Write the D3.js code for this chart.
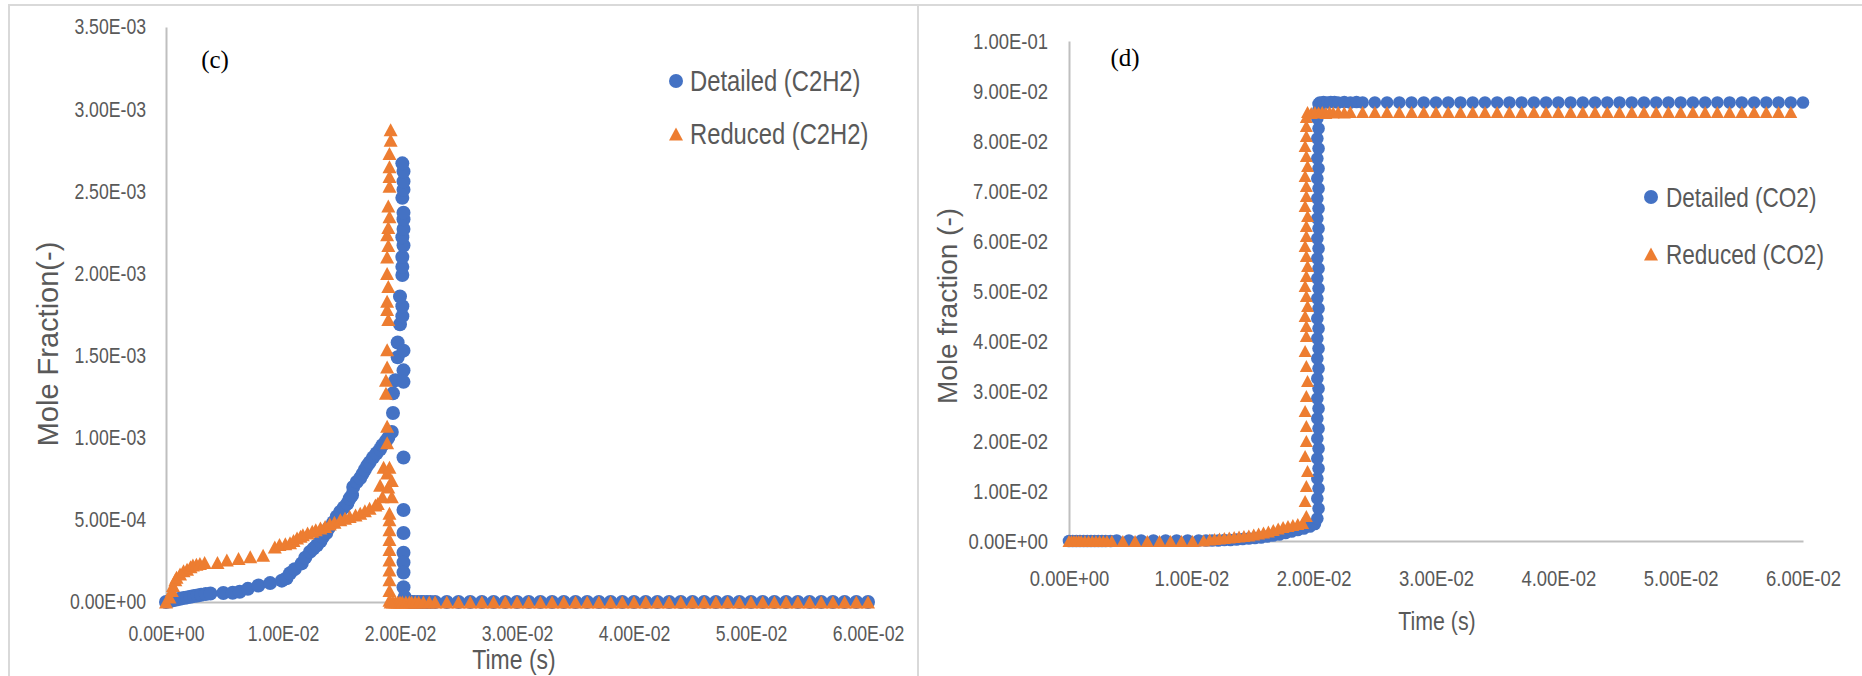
<!DOCTYPE html>
<html>
<head>
<meta charset="utf-8">
<script src="https://cdn.jsdelivr.net/npm/d3@7"></script>
<style>
  body { margin: 0; background: #ffffff; }
  svg { display: block; }
</style>
</head>
<body>
<svg id="chart" width="1862" height="676"></svg>
<script>
// ---------- data ----------
const timeTicks = [0, 0.01, 0.02, 0.03, 0.04, 0.05, 0.06];
const timeTickLabels = ["0.00E+00", "1.00E-02", "2.00E-02", "3.00E-02", "4.00E-02", "5.00E-02", "6.00E-02"];

const c2h2Ticks = [0, 0.0005, 0.001, 0.0015, 0.002, 0.0025, 0.003, 0.0035];
const c2h2TickLabels = ["0.00E+00", "5.00E-04", "1.00E-03", "1.50E-03", "2.00E-03", "2.50E-03", "3.00E-03", "3.50E-03"];

const co2Ticks = [0, 0.01, 0.02, 0.03, 0.04, 0.05, 0.06, 0.07, 0.08, 0.09, 0.1];
const co2TickLabels = ["0.00E+00", "1.00E-02", "2.00E-02", "3.00E-02", "4.00E-02", "5.00E-02",
                       "6.00E-02", "7.00E-02", "8.00E-02", "9.00E-02", "1.00E-01"];

const legendC2H2 = ["Detailed (C2H2)", "Reduced (C2H2)"];
const legendCO2 = ["Detailed (CO2)", "Reduced (CO2)"];

// C2H2 mole fraction, detailed mechanism: [time (s), mole fraction]
const detailedC2H2 = [
  [0, 0], [0.0003, 5e-6], [0.0006, 1e-5], [0.0009, 1.5e-5], [0.0012, 2e-5], [0.0015, 2.4e-5],
  [0.0018, 2.8e-5], [0.0021, 3.2e-5], [0.0024, 3.6e-5], [0.0027, 4e-5], [0.003, 4.4e-5],
  [0.0034, 4.8e-5], [0.0038, 5.2e-5], [0.0049, 5.5e-5], [0.0057, 5.6e-5], [0.0063, 6.2e-5],
  [0.007, 8e-5], [0.0079, 1e-4], [0.0089, 1.15e-4], [0.0099, 1.3e-4], [0.0103, 1.45e-4],
  [0.0106, 1.75e-4], [0.011, 2e-4], [0.0116, 2.35e-4], [0.0119, 2.7e-4], [0.0123, 3.05e-4],
  [0.0126, 3.25e-4], [0.0129, 3.45e-4], [0.0132, 3.7e-4], [0.0134, 3.95e-4], [0.0137, 4.2e-4],
  [0.0139, 4.5e-4], [0.0143, 4.85e-4], [0.0146, 5.2e-4], [0.0149, 5.5e-4], [0.0152, 5.75e-4],
  [0.0155, 6e-4], [0.0157, 6.3e-4], [0.0159, 6.5e-4], [0.016, 7e-4], [0.0163, 7.3e-4],
  [0.0166, 7.55e-4], [0.0168, 7.8e-4], [0.017, 8.05e-4], [0.0172, 8.3e-4], [0.0174, 8.5e-4],
  [0.0177, 8.8e-4], [0.018, 9.05e-4], [0.0183, 9.3e-4], [0.0185, 9.55e-4], [0.0188, 9.8e-4],
  [0.019, 1.0e-3], [0.0193, 1.035e-3],
  [0.0194, 1.15e-3], [0.0194, 1.27e-3], [0.0196, 1.35e-3], [0.0198, 1.49e-3], [0.0198, 1.58e-3],
  [0.02, 1.69e-3], [0.0202, 1.74e-3], [0.0202, 1.8e-3], [0.02, 1.86e-3], [0.0202, 1.99e-3],
  [0.0202, 2.04e-3], [0.0202, 2.1e-3], [0.0203, 2.17e-3], [0.0202, 2.22e-3], [0.0203, 2.27e-3],
  [0.0203, 2.33e-3], [0.0203, 2.37e-3], [0.0202, 2.46e-3], [0.0203, 2.51e-3], [0.0203, 2.56e-3],
  [0.0203, 2.62e-3], [0.0202, 2.67e-3],
  [0.0203, 1.53e-3], [0.0203, 1.41e-3], [0.0203, 1.34e-3], [0.0203, 8.8e-4], [0.0203, 5.6e-4],
  [0.0203, 4.2e-4], [0.0203, 3.0e-4], [0.0203, 2.4e-4], [0.0203, 1.8e-4], [0.0203, 9e-5],
  [0.0204, 3e-5], [0.0206, 1e-5], [0.0208, 0], [0.021, 0], [0.0212, 0], [0.0215, 0],
  [0.0218, 0], [0.022, 0], [0.0223, 0], [0.0226, 0], [0.023, 0],
  [0.024, 0], [0.025, 0], [0.026, 0], [0.027, 0], [0.028, 0], [0.029, 0], [0.030, 0],
  [0.031, 0], [0.032, 0], [0.033, 0], [0.034, 0], [0.035, 0], [0.036, 0], [0.037, 0],
  [0.038, 0], [0.039, 0], [0.040, 0], [0.041, 0], [0.042, 0], [0.043, 0], [0.044, 0],
  [0.045, 0], [0.046, 0], [0.047, 0], [0.048, 0], [0.049, 0], [0.050, 0], [0.051, 0],
  [0.052, 0], [0.053, 0], [0.054, 0], [0.055, 0], [0.056, 0], [0.057, 0], [0.058, 0],
  [0.059, 0], [0.060, 0]
];

// C2H2 mole fraction, reduced mechanism
const reducedC2H2 = [
  [0, 0], [0.0003, 3e-5], [0.0005, 7e-5], [0.0006, 1e-4], [0.0008, 1.35e-4], [0.0009, 1.5e-4],
  [0.0012, 1.7e-4], [0.0015, 1.9e-4], [0.0018, 2e-4], [0.0021, 2.15e-4], [0.0023, 2.25e-4],
  [0.0026, 2.3e-4], [0.0029, 2.35e-4], [0.0033, 2.4e-4], [0.0044, 2.4e-4], [0.0052, 2.55e-4],
  [0.0062, 2.65e-4], [0.0072, 2.75e-4], [0.0083, 2.85e-4], [0.0093, 3.35e-4], [0.0097, 3.5e-4],
  [0.0102, 3.55e-4], [0.0106, 3.6e-4], [0.0109, 3.75e-4], [0.0112, 3.9e-4], [0.0115, 4e-4],
  [0.0117, 4.1e-4], [0.0121, 4.2e-4], [0.0125, 4.3e-4], [0.0128, 4.4e-4], [0.0132, 4.5e-4],
  [0.0136, 4.6e-4], [0.014, 4.75e-4], [0.0144, 4.85e-4], [0.0149, 5e-4], [0.0153, 5.1e-4],
  [0.0157, 5.2e-4], [0.0162, 5.3e-4], [0.0166, 5.4e-4], [0.017, 5.55e-4], [0.0174, 5.7e-4],
  [0.0179, 5.9e-4], [0.0181, 6e-4], [0.0185, 6.4e-4],
  [0.0183, 7.1e-4], [0.0186, 8.2e-4], [0.0189, 9.7e-4], [0.0189, 1.07e-3], [0.0188, 1.27e-3],
  [0.0188, 1.35e-3], [0.0189, 1.43e-3], [0.0189, 1.535e-3], [0.019, 1.72e-3], [0.0189, 1.78e-3],
  [0.0189, 1.83e-3], [0.019, 1.92e-3], [0.0189, 2.0e-3], [0.0189, 2.1e-3], [0.019, 2.17e-3],
  [0.0189, 2.235e-3], [0.019, 2.28e-3], [0.0191, 2.345e-3], [0.019, 2.41e-3], [0.0191, 2.53e-3],
  [0.0191, 2.59e-3], [0.0191, 2.65e-3], [0.0191, 2.73e-3], [0.0192, 2.81e-3], [0.0192, 2.875e-3],
  [0.0191, 8.2e-4], [0.0189, 7.85e-4], [0.0193, 7.4e-4], [0.019, 7e-4], [0.0193, 6.4e-4],
  [0.0191, 5.4e-4], [0.0191, 5e-4], [0.0191, 4.4e-4], [0.0191, 3.8e-4], [0.0191, 3.2e-4],
  [0.0191, 2.55e-4], [0.0191, 1.95e-4], [0.0191, 1.35e-4], [0.0191, 7e-5], [0.0191, 1e-5],
  [0.0192, 0], [0.0194, 0], [0.0196, 0], [0.0198, 0], [0.02, 0], [0.0202, 0], [0.0205, 0],
  [0.0208, 0], [0.021, 0], [0.0213, 0], [0.0216, 0], [0.022, 0], [0.0225, 0], [0.023, 0],
  [0.024, 0], [0.025, 0], [0.026, 0], [0.027, 0], [0.028, 0], [0.029, 0], [0.030, 0],
  [0.031, 0], [0.032, 0], [0.033, 0], [0.034, 0], [0.035, 0], [0.036, 0], [0.037, 0],
  [0.038, 0], [0.039, 0], [0.040, 0], [0.041, 0], [0.042, 0], [0.043, 0], [0.044, 0],
  [0.045, 0], [0.046, 0], [0.047, 0], [0.048, 0], [0.049, 0], [0.050, 0], [0.051, 0],
  [0.052, 0], [0.053, 0], [0.054, 0], [0.055, 0], [0.056, 0], [0.057, 0], [0.058, 0],
  [0.059, 0], [0.060, 0]
];

// CO2 mole fraction, detailed mechanism
const detailedCO2 = [
  [0, 0], [0.0003, 0], [0.0006, 0], [0.0009, 0], [0.0012, 0], [0.0015, 0], [0.0018, 0],
  [0.0021, 0], [0.0024, 0], [0.0027, 0], [0.003, 0], [0.0034, 0], [0.0039, 0.0001],
  [0.0049, 0.0001], [0.0059, 0.0001], [0.0069, 0.0001], [0.0079, 0.0001], [0.0088, 0.0001],
  [0.0097, 0.0001], [0.0106, 0.0001], [0.0112, 0.0001], [0.0117, 0.0001], [0.0122, 0.0001],
  [0.0127, 0.0002], [0.0132, 0.0002], [0.0137, 0.0003], [0.0142, 0.0004], [0.0147, 0.0005],
  [0.0152, 0.0006], [0.0157, 0.0007], [0.0162, 0.0009], [0.0167, 0.0011], [0.0172, 0.0013],
  [0.0177, 0.0016], [0.0182, 0.0019], [0.0187, 0.0022], [0.0192, 0.0025], [0.0197, 0.0029],
  [0.0201, 0.0034],
  [0.0203, 0.0045], [0.0204, 0.0065], [0.0203, 0.0085], [0.0204, 0.0105], [0.0203, 0.0125],
  [0.0204, 0.0145], [0.0203, 0.0165], [0.0204, 0.0185], [0.0203, 0.0205], [0.0204, 0.0225],
  [0.0203, 0.0245], [0.0204, 0.0265], [0.0203, 0.0285], [0.0204, 0.0305], [0.0203, 0.0325],
  [0.0204, 0.0345], [0.0203, 0.0365], [0.0204, 0.0385], [0.0203, 0.0405], [0.0204, 0.0425],
  [0.0203, 0.0445], [0.0204, 0.0465], [0.0203, 0.0485], [0.0204, 0.0505], [0.0203, 0.0525],
  [0.0204, 0.0545], [0.0203, 0.0565], [0.0204, 0.0585], [0.0203, 0.0605], [0.0204, 0.0625],
  [0.0203, 0.0645], [0.0204, 0.0665], [0.0203, 0.0685], [0.0204, 0.0705], [0.0203, 0.0725],
  [0.0204, 0.0745], [0.0203, 0.0765], [0.0204, 0.0785], [0.0203, 0.0805], [0.0204, 0.0825],
  [0.0203, 0.0845], [0.0204, 0.0862], [0.0204, 0.0874],
  [0.0205, 0.0877], [0.0208, 0.0878], [0.0211, 0.0877], [0.0214, 0.0878], [0.0217, 0.0878],
  [0.022, 0.0877], [0.0225, 0.0878], [0.023, 0.0877], [0.0235, 0.0878],
  [0.024, 0.0877], [0.025, 0.0877], [0.026, 0.0877], [0.027, 0.0877], [0.028, 0.0877],
  [0.029, 0.0877], [0.030, 0.0877], [0.031, 0.0877], [0.032, 0.0877], [0.033, 0.0877],
  [0.034, 0.0877], [0.035, 0.0877], [0.036, 0.0877], [0.037, 0.0877], [0.038, 0.0877],
  [0.039, 0.0877], [0.040, 0.0877], [0.041, 0.0877], [0.042, 0.0877], [0.043, 0.0877],
  [0.044, 0.0877], [0.045, 0.0877], [0.046, 0.0877], [0.047, 0.0877], [0.048, 0.0877],
  [0.049, 0.0877], [0.050, 0.0877], [0.051, 0.0877], [0.052, 0.0877], [0.053, 0.0877],
  [0.054, 0.0877], [0.055, 0.0877], [0.056, 0.0877], [0.057, 0.0877], [0.058, 0.0877],
  [0.059, 0.0877], [0.060, 0.0877]
];

// CO2 mole fraction, reduced mechanism
const reducedCO2 = [
  [0, 0], [0.0002, 0], [0.0004, 0], [0.0006, 0], [0.0008, 0], [0.001, 0], [0.0013, 0],
  [0.0016, 0], [0.0019, 0], [0.0022, 0], [0.0025, 0], [0.0028, 0], [0.0031, 0], [0.0035, 0],
  [0.0044, 0], [0.0054, 0], [0.0064, 0], [0.0074, 0], [0.0083, 0], [0.0092, 0], [0.0101, 0],
  [0.011, 0.0001], [0.0115, 0.0003], [0.0119, 0.0004], [0.0123, 0.0005], [0.0127, 0.0006],
  [0.0131, 0.0007], [0.0135, 0.0008], [0.0139, 0.0009], [0.0143, 0.001], [0.0147, 0.0011],
  [0.0151, 0.0013], [0.0155, 0.0015], [0.0159, 0.0017], [0.0163, 0.0019], [0.0167, 0.0022],
  [0.0171, 0.0025], [0.0175, 0.0028], [0.0179, 0.003], [0.0183, 0.0032], [0.0187, 0.0034],
  [0.0191, 0.0036],
  [0.0194, 0.005], [0.0193, 0.008], [0.0194, 0.011], [0.0195, 0.014], [0.0193, 0.017],
  [0.0194, 0.02], [0.0194, 0.023], [0.0193, 0.026], [0.0194, 0.029], [0.0195, 0.032],
  [0.0194, 0.035], [0.0193, 0.038], [0.0194, 0.041], [0.0194, 0.043], [0.0193, 0.045],
  [0.0195, 0.047], [0.0194, 0.049], [0.0193, 0.051], [0.0194, 0.053], [0.0195, 0.055],
  [0.0194, 0.057], [0.0193, 0.059], [0.0194, 0.061], [0.0194, 0.063], [0.0195, 0.065],
  [0.0193, 0.067], [0.0194, 0.069], [0.0194, 0.071], [0.0193, 0.073], [0.0195, 0.075],
  [0.0194, 0.077], [0.0193, 0.079], [0.0194, 0.081], [0.0194, 0.083], [0.0194, 0.0848],
  [0.0195, 0.0858], [0.0198, 0.0856], [0.0201, 0.0858], [0.0204, 0.0857], [0.0207, 0.0858],
  [0.021, 0.0856], [0.0213, 0.0858], [0.0216, 0.0857], [0.022, 0.0858], [0.0225, 0.0857],
  [0.023, 0.0858],
  [0.024, 0.0858], [0.025, 0.0858], [0.026, 0.0858], [0.027, 0.0858], [0.028, 0.0858],
  [0.029, 0.0858], [0.030, 0.0858], [0.031, 0.0858], [0.032, 0.0858], [0.033, 0.0858],
  [0.034, 0.0858], [0.035, 0.0858], [0.036, 0.0858], [0.037, 0.0858], [0.038, 0.0858],
  [0.039, 0.0858], [0.040, 0.0858], [0.041, 0.0858], [0.042, 0.0858], [0.043, 0.0858],
  [0.044, 0.0858], [0.045, 0.0858], [0.046, 0.0858], [0.047, 0.0858], [0.048, 0.0858],
  [0.049, 0.0858], [0.050, 0.0858], [0.051, 0.0858], [0.052, 0.0858], [0.053, 0.0858],
  [0.054, 0.0858], [0.055, 0.0858], [0.056, 0.0858], [0.057, 0.0858], [0.058, 0.0858],
  [0.059, 0.0858]
];

// ---------- styling ----------
const BLUE = "#4472C4";
const ORANGE = "#ED7D31";
const TEXT_GRAY = "#595959";
const AXIS_GRAY = "#bfbfbf";
const FRAME_GRAY = "#d9d9d9";

function hasFont(name) {
  const ctx = document.createElement("canvas").getContext("2d");
  const sample = "Detailed 0.00E+00 Time";
  ctx.font = "40px monospace";
  const a = ctx.measureText(sample).width;
  ctx.font = `40px "${name}", monospace`;
  return ctx.measureText(sample).width !== a;
}
const NARROW_OK = hasFont("Liberation Sans Narrow");
const NARROW = NARROW_OK ? "'Liberation Sans Narrow', sans-serif" : "'Liberation Sans', Arial, sans-serif";
const WIDE = "'Liberation Sans', Arial, sans-serif";

// squeeze text horizontally when the condensed face is missing
function condense(sel) {
  if (NARROW_OK) return;
  sel.each(function () {
    const L = this.getComputedTextLength();
    this.setAttribute("textLength", (L * 0.82).toFixed(1));
    this.setAttribute("lengthAdjust", "spacingAndGlyphs");
  });
}

const svg = d3.select("#chart");
svg.append("rect").attr("width", 1862).attr("height", 676).attr("fill", "#fff");

// panel frames
svg.append("rect").attr("x", 9).attr("y", 5).attr("width", 909).attr("height", 700)
  .attr("fill", "none").attr("stroke", FRAME_GRAY).attr("stroke-width", 2);
svg.append("rect").attr("x", 918).attr("y", 5).attr("width", 1000).attr("height", 700)
  .attr("fill", "none").attr("stroke", FRAME_GRAY).attr("stroke-width", 2);

function triPath(w, h) {
  return `M0,${-h / 2}L${w / 2},${h / 2}L${-w / 2},${h / 2}Z`;
}

function drawPanel(p) {
  const x = d3.scaleLinear().domain([0, 0.06]).range([p.left, p.right]);
  const y = d3.scaleLinear().domain([0, p.yMax]).range([p.bottom, p.top]);
  const g = svg.append("g");

  const ya = g.append("g").attr("transform", `translate(${p.left},0)`)
    .call(d3.axisLeft(y).tickValues(p.yTicks).tickFormat((d, i) => p.yLabels[i])
      .tickSize(0).tickSizeOuter(0).tickPadding(p.yPad));
  const xa = g.append("g").attr("transform", `translate(0,${p.bottom})`)
    .call(d3.axisBottom(x).tickValues(timeTicks).tickFormat((d, i) => timeTickLabels[i])
      .tickSize(0).tickSizeOuter(0).tickPadding(p.xPad));
  [ya, xa].forEach(a => {
    a.select(".domain").attr("stroke", AXIS_GRAY).attr("stroke-width", 2);
    a.selectAll(".tick line").remove();
    a.selectAll("text").attr("fill", TEXT_GRAY).attr("font-family", NARROW)
      .attr("font-size", p.tickFont).call(condense);
  });

  // detailed mechanism: circles
  g.append("g").selectAll("circle").data(p.detailed).join("circle")
    .attr("cx", d => x(d[0])).attr("cy", d => y(d[1])).attr("r", p.r)
    .attr("fill", BLUE);
  // reduced mechanism: triangles
  g.append("g").selectAll("path").data(p.reduced).join("path")
    .attr("d", triPath(p.triW, p.triH))
    .attr("transform", d => `translate(${x(d[0])},${y(d[1])})`)
    .attr("fill", ORANGE);

  // axis titles
  g.append("text").attr("x", p.xTitle[0]).attr("y", p.xTitle[1]).attr("dy", "0.35em")
    .attr("text-anchor", "middle").attr("font-family", NARROW).attr("font-size", p.xTitleFont)
    .attr("fill", TEXT_GRAY).text("Time (s)").call(condense);
  g.append("text").attr("transform", `translate(${p.yTitle[0]},${p.yTitle[1]}) rotate(-90)`)
    .attr("dy", "0.35em").attr("text-anchor", "middle").attr("font-family", WIDE)
    .attr("font-size", p.yTitleFont).attr("fill", TEXT_GRAY).text(p.yTitleText);

  // panel tag
  g.append("text").attr("x", p.tag[0]).attr("y", p.tag[1]).attr("dy", "0.35em")
    .attr("text-anchor", "middle").attr("font-family", "'Liberation Serif', 'Times New Roman', serif")
    .attr("font-size", 25).attr("fill", "#000").text(p.tagText);

  // legend
  const lg = g.append("g");
  lg.append("circle").attr("cx", p.legX).attr("cy", p.legY[0]).attr("r", 7).attr("fill", BLUE);
  lg.append("path").attr("d", triPath(14, 13))
    .attr("transform", `translate(${p.legX},${p.legY[1]})`).attr("fill", ORANGE);
  p.legend.forEach((name, i) => {
    lg.append("text").attr("x", p.legX + p.legGap).attr("y", p.legY[i]).attr("dy", "0.35em")
      .attr("font-family", NARROW).attr("font-size", p.legFont).attr("fill", TEXT_GRAY)
      .text(name).call(condense);
  });
}

drawPanel({
  left: 166, right: 868, top: 27, bottom: 602, yMax: 0.0035,
  yTicks: c2h2Ticks, yLabels: c2h2TickLabels, yPad: 20, xPad: 24, tickFont: 21.5,
  detailed: detailedC2H2, reduced: reducedC2H2, r: 7, triW: 14, triH: 13,
  xTitle: [514, 659], xTitleFont: 28,
  yTitle: [47.5, 344], yTitleFont: 29, yTitleText: "Mole Fraction(-)",
  tag: [215, 59], tagText: "(c)",
  legX: 676, legY: [81, 134], legGap: 14, legFont: 29, legend: legendC2H2
});

drawPanel({
  left: 1069, right: 1803, top: 41, bottom: 541, yMax: 0.1,
  yTicks: co2Ticks, yLabels: co2TickLabels, yPad: 21, xPad: 29, tickFont: 22.5,
  detailed: detailedCO2, reduced: reducedCO2, r: 6.3, triW: 13, triH: 12,
  xTitle: [1437, 621], xTitleFont: 26,
  yTitle: [947, 306], yTitleFont: 28, yTitleText: "Mole fraction (-)",
  tag: [1125, 57], tagText: "(d)",
  legX: 1651, legY: [197, 254], legGap: 15, legFont: 27.5, legend: legendCO2
});
</script>
</body>
</html>
